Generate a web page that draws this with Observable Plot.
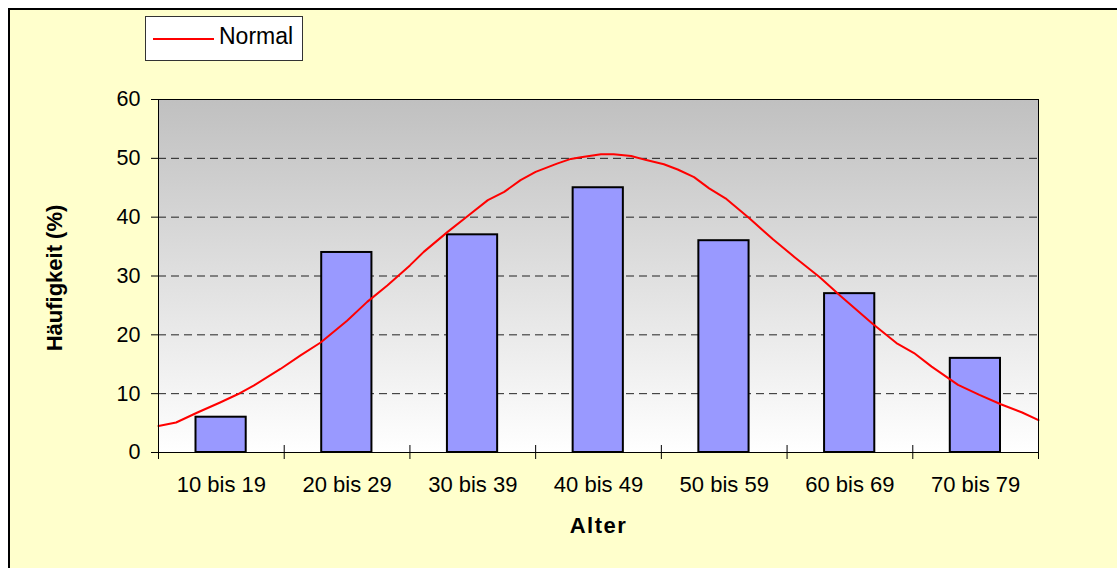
<!DOCTYPE html>
<html>
<head>
<meta charset="utf-8">
<script src="https://cdn.jsdelivr.net/npm/d3@7"></script>
<script src="https://cdn.jsdelivr.net/npm/@observablehq/plot@0.6"></script>
<style>
  html, body { margin: 0; padding: 0; background: #fff; width: 1117px; height: 568px; overflow: hidden; }
  #bgbox { position: absolute; left: 8px; top: 8px; width: 1120px; height: 580px; background: #ffffcc; border-left: 2px solid #000; border-top: 2px solid #000; }
  #chart { position: absolute; left: 0; top: 0; }
  #legend { position: absolute; left: 145px; top: 16px; width: 156px; height: 43px; background: #fff; border: 1px solid #333; font-family: "Liberation Sans", Arial, sans-serif; font-size: 23px; }
  #legend svg { position: absolute; left: 7px; top: 20px; }
  #legend span { position: absolute; left: 73px; top: 6px; color: #000; }
</style>
</head>
<body>
<div id="bgbox"></div>
<div id="chart"></div>
<div id="legend"><svg width="62" height="4"><line x1="0" y1="2" x2="61" y2="2" stroke="#ff0000" stroke-width="2"/></svg><span>Normal</span></div>
<script>
// --- Data ---
const categories = ["10 bis 19", "20 bis 29", "30 bis 39", "40 bis 49", "50 bis 59", "60 bis 69", "70 bis 79"];
const ageFrom = [10, 20, 30, 40, 50, 60, 70];
const ageTo = [20, 30, 40, 50, 60, 70, 80];
const values = [6, 34, 37, 45, 36, 27, 16];
const yTicks = [0, 10, 20, 30, 40, 50, 60];
const normalAge = [10, 11.4, 13.1, 14.9, 16.3, 17.6, 19.7, 21.3, 22.9, 25.0, 26.6, 28.2, 30.0, 31.1, 33.0, 34.6, 36.2, 37.5, 38.8, 40.0, 41.7, 42.8, 43.6, 45.2, 46.2, 47.6, 48.8, 50.2, 51.3, 52.6, 53.8, 55.1, 57.0, 58.9, 60.6, 62.6, 64.3, 66.8, 68.7, 70.1, 71.5, 73.6, 75.3, 77.0, 78.7, 80];
const normalPct = [4.5, 5.1, 6.8, 8.5, 9.9, 11.4, 14.2, 16.5, 18.7, 22.4, 25.6, 28.4, 31.8, 34.1, 37.5, 40.2, 42.9, 44.3, 46.3, 47.7, 49.1, 49.9, 50.2, 50.7, 50.7, 50.4, 49.7, 49.0, 48.1, 46.8, 44.9, 43.2, 39.8, 36.2, 33.2, 29.8, 26.5, 21.9, 18.6, 16.9, 14.6, 11.5, 9.8, 8.2, 6.8, 5.5];

const bars = categories.map((c, i) => ({cat: c, from: ageFrom[i], to: ageTo[i], mid: (ageFrom[i] + ageTo[i]) / 2, value: values[i]}));
const curve = normalAge.map((a, i) => ({age: a, pct: normalPct[i]}));
const boundaries = [...ageFrom, ageTo[ageTo.length - 1]];
const labelOf = new Map(bars.map(b => [b.mid, b.cat]));

const chart = Plot.plot({
  width: 1117,
  height: 568,
  marginLeft: 158,
  marginRight: 79,
  marginTop: 99,
  marginBottom: 116,
  style: {background: "transparent", fontFamily: "'Liberation Sans', Arial, sans-serif", color: "#000", overflow: "visible"},
  x: {type: "linear", domain: [10, 80], axis: null},
  y: {domain: [0, 60], axis: null},
  marks: [
    Plot.frame({fill: "url(#plotbg)", stroke: "none"}),
    Plot.gridY({ticks: [10, 20, 30, 40, 50], stroke: "#000", strokeOpacity: 0.85, strokeDasharray: "8,5", strokeWidth: 1}),
    Plot.rectY(bars, {x1: "from", x2: "to", y: "value", fill: "#9999ff", stroke: "#000", strokeWidth: 2, insetLeft: 37.5, insetRight: 38}),
    Plot.line(curve, {x: "age", y: "pct", stroke: "#ff0000", strokeWidth: 2, curve: "linear"}),
    Plot.frame({stroke: "#000", strokeWidth: 1}),
    Plot.ruleX(boundaries, {x: d => d, y1: 0, y2: 0, insetTop: -7, insetBottom: -7, stroke: "#000", strokeWidth: 1}),
    Plot.axisY({ticks: yTicks, tickSize: 7, tickPadding: 11, fontSize: 21.5, label: null, stroke: "#000"}),
    Plot.axisX({ticks: bars.map(b => b.mid), tickSize: 0, tickPadding: 24, fontSize: 22, label: null, tickFormat: d => labelOf.get(d)}),
    Plot.text(["Häufigkeit (%)"], {frameAnchor: "left", textAnchor: "middle", lineAnchor: "middle", dx: -104, dy: 2, rotate: -90, fontSize: 22, fontWeight: "bold", fill: "#000"}),
    Plot.text(["Alter"], {frameAnchor: "bottom", textAnchor: "middle", lineAnchor: "middle", dy: 73, fontSize: 22, fontWeight: "bold", fill: "#000", className: "xtitle"})
  ]
});

d3.select(chart).insert("defs", ":first-child").html(
  '<linearGradient id="plotbg" x1="0" y1="0" x2="0" y2="1">' +
  '<stop offset="0" stop-color="#c0c0c0"/><stop offset="1" stop-color="#ffffff"/></linearGradient>'
);
d3.select(chart).selectAll("text").filter(function() { return this.textContent === "Alter"; }).style("letter-spacing", "1.5px");
document.getElementById("chart").appendChild(chart);
</script>
</body>
</html>
